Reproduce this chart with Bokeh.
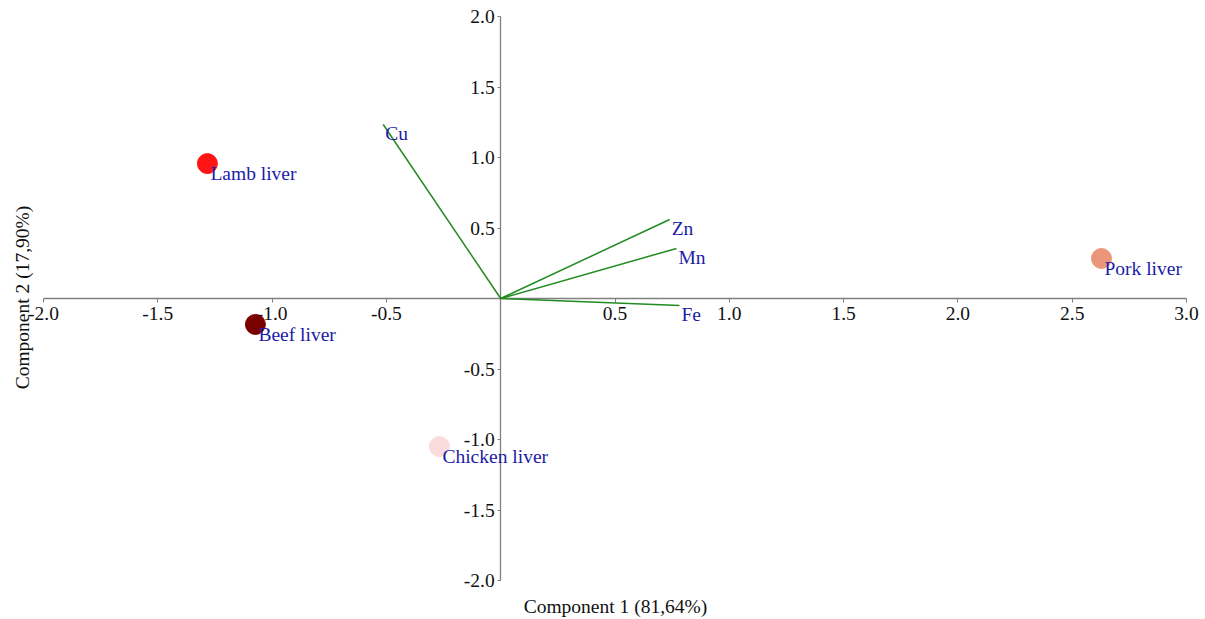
import math
from bokeh.plotting import figure
from bokeh.models import LinearAxis, FixedTicker, PrintfTickFormatter, ColumnDataSource, Label
from bokeh.core.properties import value
from bokeh.embed import file_html
from bokeh.resources import INLINE

# ---- data ----
samples = ["Lamb liver", "Beef liver", "Chicken liver", "Pork liver"]
pc1 = [-1.283, -1.073, -0.268, 2.628]
pc2 = [0.957, -0.184, -1.050, 0.284]
sample_colors = ["#ff1414", "#7a0000", "#f9dcdc", "#ea967a"]

elements = ["Cu", "Zn", "Mn", "Fe"]
load1 = [-0.514, 0.739, 0.769, 0.782]
load2 = [1.234, 0.560, 0.355, -0.050]

x_ticks = [-2.0, -1.5, -1.0, -0.5, 0.5, 1.0, 1.5, 2.0, 2.5, 3.0]
y_ticks = [-2.0, -1.5, -1.0, -0.5, 0.5, 1.0, 1.5, 2.0]
x_title = "Component 1 (81,64%)"
y_title = "Component 2 (17,90%)"

FONT = "Liberation Serif"
FS = "19.5px"
LABEL_COLOR = "#1c1ca6"

W, H = 1204, 618
# frame covers the whole canvas; axis lines are bounded to the tick span
p = figure(width=W, height=H, x_range=(-2.1881, 3.0787), y_range=(-2.2695, 2.1135),
           x_axis_location=None, y_axis_location=None,
           min_border_left=0, min_border_right=0, min_border_top=0, min_border_bottom=0,
           outline_line_color=None, toolbar_location=None, output_backend="svg",
           background_fill_color="white", border_fill_color="white")
p.grid.visible = False

def style_axis(ax):
    ax.axis_line_color = "#7f7f7f"
    ax.axis_line_width = 1.3
    ax.major_tick_line_color = "#7f7f7f"
    ax.minor_tick_line_color = None
    ax.major_label_text_font = FONT
    ax.major_label_text_font_size = FS
    ax.major_label_text_color = "#111111"
    ax.formatter = PrintfTickFormatter(format="%.1f")
    ax.level = "underlay"

xa = LinearAxis(fixed_location=0, ticker=FixedTicker(ticks=x_ticks), bounds=(x_ticks[0], x_ticks[-1]))
style_axis(xa)
xa.major_tick_in = 0
xa.major_tick_out = 4
xa.major_label_standoff = 4
p.add_layout(xa, "below")

ya = LinearAxis(fixed_location=0, ticker=FixedTicker(ticks=y_ticks), bounds=(y_ticks[0], y_ticks[-1]))
style_axis(ya)
ya.major_tick_in = 0
ya.major_tick_out = 3
ya.major_label_standoff = 3
p.add_layout(ya, "left")

p.add_layout(Label(x=615, y=606, x_units="canvas", y_units="canvas", text=x_title,
                   text_font=FONT, text_font_size=FS, text_color="#111111",
                   text_align="center", text_baseline="middle"))
p.add_layout(Label(x=22, y=297, x_units="canvas", y_units="canvas", text=y_title,
                   angle=math.pi / 2, text_font=FONT, text_font_size=FS, text_color="#111111",
                   text_align="center", text_baseline="middle"))

# loadings
lsrc = ColumnDataSource(dict(x0=[0.0] * len(elements), y0=[0.0] * len(elements),
                             x1=load1, y1=load2, name=elements))
p.segment(x0="x0", y0="y0", x1="x1", y1="y1", source=lsrc,
          line_color="#218a21", line_width=1.5)
p.text(x="x1", y="y1", text="name", source=lsrc, x_offset=2, y_offset=9,
       text_font=value(FONT), text_font_size=FS, text_color=LABEL_COLOR,
       text_align="left", text_baseline="middle")

# scores
ssrc = ColumnDataSource(dict(x=pc1, y=pc2, name=samples, color=sample_colors))
p.scatter(x="x", y="y", source=ssrc, size=20, fill_color="color", line_color="color")
p.text(x="x", y="y", text="name", source=ssrc, x_offset=3, y_offset=10,
       text_font=value(FONT), text_font_size=FS, text_color=LABEL_COLOR,
       text_align="left", text_baseline="middle")

open("out.html", "w").write(file_html(p, INLINE))
